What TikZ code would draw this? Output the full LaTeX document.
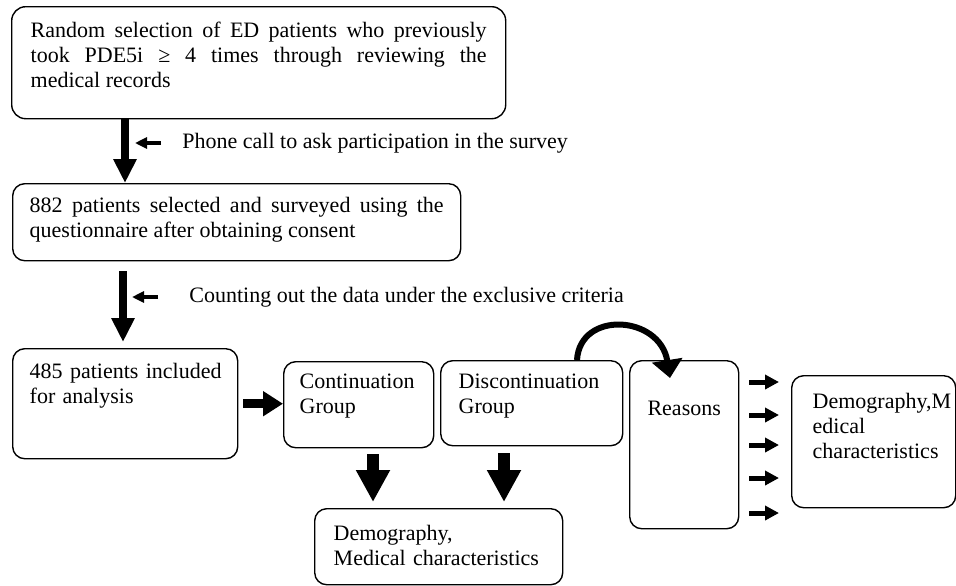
\documentclass[tikz,border=0pt]{standalone}
\usepackage{fontspec}
\setmainfont{Liberation Serif}
\usetikzlibrary{arrows.meta}
\hyphenpenalty=10000

\begin{document}
\begin{tikzpicture}[
  x=.5pt, y=-.5pt,
  font=\fontsize{11}{12.5}\selectfont,
  box/.style={draw, line width=.7pt, rounded corners=6pt, anchor=north west, inner ysep=0pt, align=left},
  bigarr/.style={line width=4pt, -{Triangle[length=12pt,width=11pt]}},
  sidearr/.style={line width=4.5pt, -{Triangle[length=10pt,width=12pt]}},
  downarr/.style={line width=6pt, -{Triangle[length=16pt,width=16pt]}},
  smallarr/.style={line width=2pt, -{Triangle[length=6pt,width=5.5pt]}},
  tinyarr/.style={line width=2.5pt, -{Triangle[length=7pt,width=7pt]}},
  curvearr/.style={line width=3pt, -{Triangle[length=9pt,width=15pt]}},
]

\useasboundingbox (0,0) rectangle (956,585);

% boxes
\node[box, rounded corners=7pt, align=justify, text width=228pt, inner xsep=9.5pt, text height=15.5pt, text depth=40.5pt] (sel) at (11,6)
  {Random selection of ED patients who previously\linebreak took PDE5i ≥ 4 times through reviewing the\linebreak medical records};
\node[box, align=justify, text width=207pt, inner xsep=8.5pt, text height=14.5pt, text depth=24pt] (survey) at (12,183)
  {882 patients selected and surveyed using the\linebreak questionnaire after obtaining consent};
\node[box, text width=95.5pt, inner xsep=8.5pt, text height=15pt, text depth=40pt] (incl) at (12,348) {\mbox{485 patients included}\\for analysis};
\node[box, text width=59pt, inner xsep=8pt, text height=13.5pt, text depth=29.5pt] (cont) at (283,361) {Continuation\\Group};
\node[box, text width=73pt, inner xsep=9pt, text height=14pt, text depth=28.5pt] (disc) at (440,360) {Discontinuation\\Group};
\node[box, align=center, text width=54.5pt, inner xsep=0pt, text height=27.5pt, text depth=56.5pt] (reasons) at (629,360) {Reasons};
\node[box, text width=61pt, inner xsep=10.5pt, text height=16.5pt, text depth=49.5pt] (rchar) at (791,375) {Demography,M\\edical\\characteristics};
\node[box, text width=105pt, inner xsep=9.5pt, text height=16pt, text depth=22pt] (gchar) at (314,508) {Demography,\\Medical characteristics};

% side notes
\node[anchor=west, inner sep=0pt] (phone) at (182,143) {Phone call to ask participation in the survey};
\node[anchor=west, inner sep=0pt] (count) at (189,297) {Counting out the data under the exclusive criteria};

\coordinate (a1) at (125,0);
\coordinate (a2) at (123,0);
\coordinate (d1) at (373,0);
\coordinate (d2) at (504,0);
\coordinate (c1) at (577,0);
\coordinate (rin) at (670,378);

% arrows
\draw[bigarr] (sel.south -| a1) -- (survey.north -| a1);
\draw[bigarr, shorten <=5pt, shorten >=3pt] (survey.south -| a2) -- (incl.north -| a2);
\draw[smallarr, shorten <=10.5pt, shorten >=5pt] (phone.west) -- (phone.west -| a1);
\draw[smallarr, shorten <=15.5pt, shorten >=4.5pt] (count.west) -- (count.west -| a2);
\draw[sidearr, shorten <=2.5pt] (incl.east) -- (incl.east -| cont.west);
\draw[downarr, shorten <=3pt, shorten >=3pt] (cont.south -| d1) -- (gchar.north -| d1);
\draw[downarr, shorten <=3.5pt, shorten >=3pt] (disc.south -| d2) -- (gchar.north -| d2);
\draw[curvearr] (disc.north -| c1) .. controls (580,310) and (660,315) .. (rin);
\foreach \y in {382,415,445,478,513}
  \draw[tinyarr, shorten <=5pt, shorten >=6pt] (reasons.east |- 0,\y) -- (rchar.west |- 0,\y);
\end{tikzpicture}
\end{document}
